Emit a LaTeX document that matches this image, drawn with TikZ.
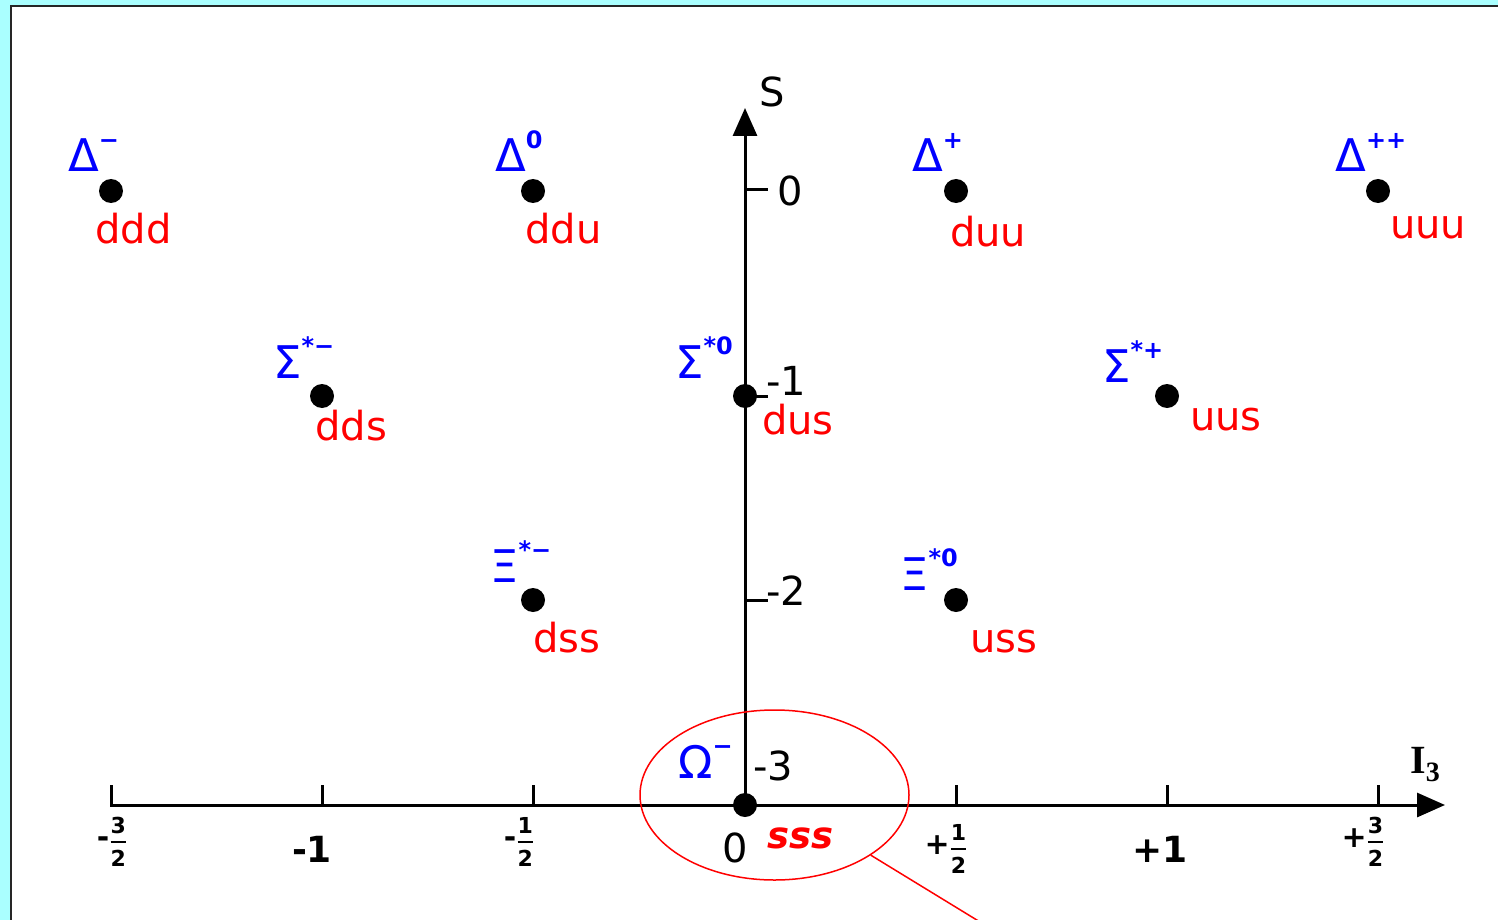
\documentclass[tikz,border=0pt]{standalone}
\usepackage{amsmath}
\usepackage{fontspec}
\setmainfont{DejaVu Sans}
\newfontfamily\serifb{Liberation Serif}
\usetikzlibrary{arrows.meta,shapes.geometric}
\definecolor{bgcyan}{RGB}{170,255,255}
\definecolor{qred}{RGB}{255,0,0}
\definecolor{pblue}{RGB}{0,0,255}
\newcommand\supx[1]{\raisebox{0.52em}{\fontsize{24}{24}\selectfont\bfseries #1}}
\newcommand\frc[3]{{\fontsize{22}{22}\selectfont\bfseries{\fontsize{30}{30}\selectfont #1}$\genfrac{}{}{2.4pt}{0}{\text{\bfseries #2}}{\text{\bfseries #3}}$}}
\tikzset{
  dot/.style={circle,fill=black,inner sep=0pt,minimum size=24pt},
  quark/.style={text=qred,font=\fontsize{40}{40}\selectfont,inner sep=0pt,anchor=base west},
  part/.style={text=pblue,font=\fontsize{45}{45}\selectfont,inner sep=0pt,anchor=base west},
  num/.style={font=\fontsize{40}{40}\selectfont,inner sep=0pt},
  fracl/.style={inner sep=0pt},
  axisline/.style={line width=3pt,-{Triangle[length=28pt,width=24pt]}},
  tickline/.style={line width=3pt},
}
\begin{document}
\begin{tikzpicture}[x=1pt,y=-1pt]
\useasboundingbox (0,0) rectangle (1498,920);
\clip (0,0) rectangle (1498,920);
\fill[bgcyan] (0,0) rectangle (1498,920);
\draw[fill=white,line width=2.5pt,draw=black!85] (11,6) rectangle (1520,940);

% axes
\coordinate (xs) at (110,805);
\coordinate (xe) at (1445,805);
\coordinate (ys) at (745,805);
\coordinate (ye) at (745,108);
\draw[axisline] (xs) -- (xe);
\draw[axisline] (ys) -- (ye);

% x ticks
\foreach \x in {111,322,533,956,1167,1378}{
  \draw[tickline] (\x,785) -- (\x,805);
}
% y ticks
\foreach \y in {190,396,600}{
  \draw[tickline] (745,\y) -- (768,\y);
}

% S axis labels
\node[num,anchor=base west] (lS) at (759,107) {S};
\node[num,anchor=base west] (l0) at (777,205) {0};
\node[num,anchor=base west] (l1) at (766,395) {-1};
\node[num,anchor=base west] (l2) at (766,605) {-2};
\node[num,anchor=base west] (l3) at (753,780) {-3};

% I3 labels
\node[num,anchor=base,font=\fontsize{36}{36}\selectfont\bfseries] (b1) at (312,862) {-1};
\node[num,anchor=base] (b0) at (735,862) {0};
\node[num,anchor=base,font=\fontsize{36}{36}\selectfont\bfseries] (b2) at (1160,862) {+1};
\node[fracl] (f1) at (112,842) {\frc{-}{3}{2}};
\node[fracl] (f2) at (519,842) {\frc{-}{1}{2}};
\node[fracl] (f3) at (946,849) {\frc{+}{1}{2}};
\node[fracl] (f4) at (1363,842) {\frc{+}{3}{2}};
\node[anchor=base west,inner sep=0pt] (I3) at (1410,773) {\serifb\fontsize{40}{40}\selectfont\bfseries I\fontsize{28}{28}\selectfont\raisebox{-0.3em}{3}};

% dots
\node[dot] (ddd) at (111,191) {};
\node[dot] (ddu) at (533,191) {};
\node[dot] (duu) at (956,191) {};
\node[dot] (uuu) at (1378,191) {};
\node[dot] (dds) at (322,396) {};
\node[dot] (dus) at (745,396) {};
\node[dot] (uus) at (1167,396) {};
\node[dot] (dss) at (533,600) {};
\node[dot] (uss) at (956,600) {};
\node[dot] (sss) at (745,805) {};

% quark labels
\node[quark] (tddd) at (95,243) {ddd};
\node[quark] (tddu) at (525,243) {ddu};
\node[quark] (tduu) at (950,246) {duu};
\node[quark] (tuuu) at (1390,238) {uuu};
\node[quark] (tdds) at (315,440) {dds};
\node[quark] (tdus) at (762,434) {dus};
\node[quark] (tuus) at (1190,430) {uus};
\node[quark] (tdss) at (533,652) {dss};
\node[quark] (tuss) at (970,652) {uss};
\node[quark,font=\fontsize{37}{37}\selectfont\itshape\bfseries] (tsss) at (767,848) {sss};

% particle labels
\node[part] (pDm) at (68,172) {Δ\supx{−}};
\node[part] (pD0) at (495,172) {Δ\supx{0}};
\node[part] (pDp) at (912,172) {Δ\supx{+}};
\node[part] (pDpp) at (1335,172) {Δ\supx{++}};
\node[part] (pSm) at (273,378) {Σ\supx{*−}};
\node[part] (pS0) at (675,378) {Σ\supx{*0}};
\node[part] (pSp) at (1102,382) {Σ\supx{*+}};
\node[part] (pXm) at (490,582) {Ξ\supx{*−}};
\node[part] (pX0) at (900,590) {Ξ\supx{*0}};
\node[part] (pOm) at (678,778) {Ω\supx{−}};

% highlight ellipse
\node[ellipse,draw=qred,line width=1.5pt,minimum width=269pt,minimum height=170pt,inner sep=0pt] (ell) at (774.5,795) {};
\coordinate (lineend) at (985,925);
\draw[qred,line width=1.5pt] (ell.-32.6) -- (lineend);
\end{tikzpicture}
\end{document}
